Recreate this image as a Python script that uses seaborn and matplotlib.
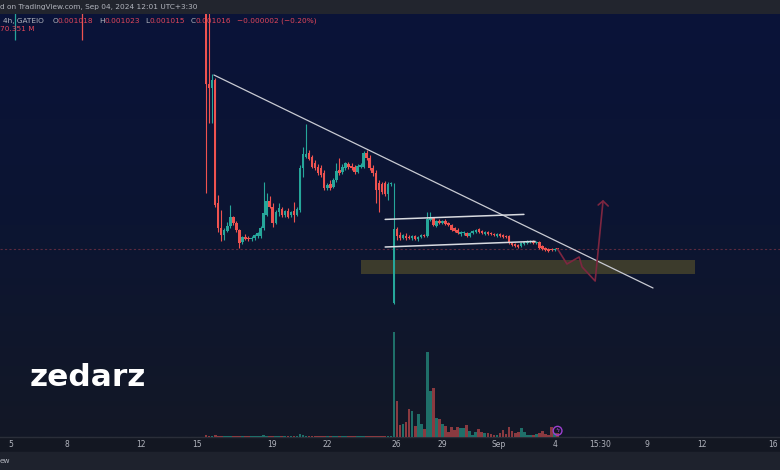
import numpy as np
import pandas as pd
import matplotlib
matplotlib.use("Agg")
import matplotlib.pyplot as plt
from matplotlib.colors import LinearSegmentedColormap
from matplotlib.patches import Rectangle
import seaborn as sns

# 4h candles, GATEIO. prices in millionths (1016 -> 0.001016), index 0 = first candle (Aug 15)
opens = [2331, 1841, 1821, 1861, 1246, 1121, 1086, 1106, 1131, 1176,
         1146, 1111, 1051, 1076, 1071, 1066, 1071, 1081, 1081, 1121,
         1186, 1256, 1226, 1146, 1201, 1216, 1186, 1206, 1186, 1206,
         1186, 1211, 1421, 1476, 1496, 1476, 1446, 1426, 1421, 1396,
         1321, 1341, 1326, 1361, 1411, 1401, 1421, 1441, 1431, 1426,
         1401, 1426, 1426, 1496, 1471, 1421, 1396, 1346, 1341, 1346,
         1291, 1341, 746, 1116, 1086, 1071, 1081, 1076, 1071, 1081,
         1066, 1076, 1086, 1081, 1161, 1171, 1131, 1156, 1146, 1156,
         1146, 1136, 1121, 1111, 1091, 1096, 1096, 1081, 1096, 1101,
         1116, 1106, 1091, 1101, 1096, 1091, 1081, 1091, 1086, 1081,
         1081, 1046, 1041, 1036, 1031, 1041, 1046, 1051, 1056, 1046,
         1051, 1031, 1021, 1016, 1016, 1011, 1018]
highs = [2381, 2196, 1891, 1871, 1286, 1211, 1121, 1151, 1236, 1181,
         1156, 1116, 1081, 1091, 1081, 1081, 1091, 1101, 1131, 1351,
         1296, 1281, 1246, 1211, 1246, 1226, 1211, 1221, 1206, 1251,
         1226, 1436, 1526, 1641, 1511, 1486, 1461, 1441, 1436, 1411,
         1346, 1361, 1371, 1446, 1471, 1441, 1451, 1451, 1446, 1436,
         1441, 1446, 1506, 1511, 1486, 1436, 1411, 1361, 1351, 1356,
         1351, 1351, 1346, 1126, 1101, 1091, 1096, 1086, 1086, 1086,
         1081, 1091, 1091, 1201, 1201, 1176, 1161, 1166, 1161, 1166,
         1151, 1141, 1126, 1121, 1106, 1106, 1101, 1101, 1111, 1116,
         1121, 1111, 1106, 1106, 1101, 1096, 1096, 1096, 1091, 1086,
         1086, 1051, 1046, 1041, 1051, 1056, 1061, 1061, 1061, 1056,
         1056, 1036, 1026, 1021, 1021, 1021, 1023]
lows = [1296, 1646, 1646, 1226, 1101, 1056, 1061, 1101, 1121, 1136,
        1101, 1021, 1041, 1061, 1056, 1056, 1061, 1071, 1071, 1111,
        1181, 1221, 1126, 1141, 1181, 1176, 1176, 1171, 1176, 1151,
        1181, 1201, 1376, 1471, 1461, 1421, 1411, 1386, 1376, 1311,
        1311, 1311, 1321, 1351, 1386, 1391, 1411, 1416, 1411, 1391,
        1396, 1421, 1421, 1461, 1411, 1381, 1246, 1201, 1291, 1281,
        1261, 1331, 741, 1061, 1061, 1066, 1061, 1066, 1061, 1061,
        1056, 1071, 1076, 1076, 1156, 1131, 1126, 1141, 1141, 1136,
        1131, 1106, 1101, 1091, 1081, 1086, 1076, 1076, 1091, 1096,
        1096, 1091, 1086, 1086, 1086, 1081, 1076, 1076, 1071, 1071,
        1041, 1031, 1026, 1021, 1026, 1036, 1041, 1046, 1041, 1041,
        1016, 1011, 1006, 1001, 1006, 1006, 1015]
closes = [1841, 1821, 1861, 1236, 1121, 1086, 1111, 1131, 1176, 1146,
          1111, 1046, 1076, 1066, 1066, 1071, 1086, 1096, 1121, 1196,
          1256, 1226, 1146, 1201, 1221, 1186, 1206, 1176, 1201, 1186,
          1216, 1421, 1491, 1491, 1466, 1426, 1421, 1396, 1386, 1321,
          1336, 1321, 1361, 1406, 1396, 1426, 1446, 1426, 1421, 1401,
          1431, 1436, 1496, 1471, 1421, 1396, 1311, 1311, 1301, 1291,
          1341, 1346, 1116, 1081, 1071, 1086, 1071, 1071, 1081, 1066,
          1076, 1086, 1081, 1166, 1171, 1136, 1156, 1146, 1156, 1141,
          1136, 1111, 1106, 1096, 1101, 1101, 1081, 1096, 1106, 1111,
          1101, 1096, 1101, 1091, 1091, 1086, 1091, 1081, 1076, 1076,
          1046, 1036, 1031, 1026, 1046, 1051, 1051, 1056, 1046, 1051,
          1021, 1016, 1011, 1006, 1011, 1018, 1016]
# volume, millions
volumes = [35, 26, 20, 35, 26, 20, 20, 20, 26, 20,
           20, 26, 20, 20, 20, 20, 20, 20, 20, 35,
           26, 20, 26, 20, 20, 20, 20, 20, 20, 20,
           20, 53, 35, 26, 20, 20, 20, 20, 20, 26,
           20, 20, 20, 26, 20, 20, 20, 20, 20, 20,
           20, 20, 26, 20, 20, 20, 26, 26, 20, 20,
           20, 20, 1838, 630, 210, 228, 263, 490, 455, 193,
           403, 228, 140, 1488, 805, 858, 333, 315, 228, 193,
           88, 175, 123, 175, 158, 158, 210, 105, 35, 88,
           140, 88, 70, 70, 53, 35, 35, 70, 123, 53,
           175, 105, 70, 88, 158, 88, 35, 35, 35, 53,
           70, 105, 53, 35, 175, 70, 70.351]

# two older wicks poking in at the top left
early_idx = [-63, -41]
early_low = [2061, 2061]
early_up = [True, False]

tick_pos = [-64.4, -45.9, -21.5, -3.0, 21.8, 39.9, 62.7, 77.9, 96.4, 115.2, 130.0, 145.5, 163.7, 187.2]
tick_labels = ["5", "8", "12", "15", "19", "22", "26", "29", "Sep", "4", "15:30", "9", "12", "16"]

# drawings (candle index, price)
trend_x, trend_y = [2.6, 147.5], [1886, 821]
chan_hi_x, chan_hi_y = [59.1, 104.9], [1164, 1189]
chan_lo_x, chan_lo_y = [59.1, 108.6], [1026, 1054]
zone_x, zone_y = [51.2, 161.4], [891, 961]
path_x = [116, 119.1, 123.1, 124.1, 128.4, 131.0]
path_y = [1016, 941, 976, 926, 856, 1256]
head_x, head_y = [129.4, 131.0, 132.7], [1236, 1256, 1231]

UP, DN = "#26a69a", "#ef5350"
VUP, VDN = "#1f6f69", "#8a3a40"

sns.set_theme(style="dark", rc={"axes.facecolor": "#131722", "figure.facecolor": "#131722"})
plt.rcParams['font.family'] = ['DejaVu Sans']

fig = plt.figure(figsize=(7.8, 4.7), dpi=100)
ax = fig.add_axes([0, 33 / 470, 1, 423 / 470])

bg = LinearSegmentedColormap.from_list("bg", ["#0a1339", "#0c1532", "#131826"])
ax.imshow(np.linspace(0, 1, 256).reshape(-1, 1), cmap=bg, aspect="auto",
          extent=[0, 1, 0, 1], transform=ax.transAxes, zorder=0)

o, h, l, c = map(np.array, (opens, highs, lows, closes))
x = np.arange(len(o))
up = c >= o
col = np.where(up, UP, DN)

ax.axhline(c[-1], ls=(0, (2, 2)), color="#5a2a3f", lw=0.8, zorder=1)
ax.fill_between(zone_x, zone_y[0], zone_y[1], color="#3c3b2c", lw=0, zorder=1)

ax.vlines(x, l, h, colors=col, lw=0.8, zorder=3)
ax.bar(x, np.maximum(np.abs(c - o), 5), bottom=np.minimum(o, c), width=0.82,
       color=col, lw=0, zorder=4)
ax.vlines(early_idx, early_low, 3000, colors=[UP if u else DN for u in early_up], lw=0.9, zorder=3)

ax.plot(trend_x, trend_y, color="#c9cbd3", lw=0.9, zorder=5)
ax.plot(chan_hi_x, chan_hi_y, color="#d8dae0", lw=1.1, zorder=5)
ax.plot(chan_lo_x, chan_lo_y, color="#d8dae0", lw=1.1, zorder=5)
ax.plot(path_x, path_y, color="#7d2640", lw=1.2, zorder=5)
ax.plot(head_x, head_y, color="#7d2640", lw=1.2, zorder=5)

axv = ax.twinx()
vol_df = pd.DataFrame({"idx": x, "vol": volumes, "dir": np.where(up, "up", "down")})
sns.barplot(data=vol_df, x="idx", y="vol", hue="dir", palette={"up": VUP, "down": VDN},
            native_scale=True, dodge=False, width=0.9, errorbar=None, legend=False,
            saturation=1, linewidth=0, ax=axv)
axv.set_ylim(0, 7402)
axv.set_axis_off()

ax.set_xlim(-68.0, 189.4)
ax.set_ylim(76, 2191)
for s in ax.spines.values():
    s.set_visible(False)
ax.spines["bottom"].set_visible(True)
ax.spines["bottom"].set_color("#2a2e39")
ax.spines["bottom"].set_linewidth(1)
ax.set_yticks([])
ax.set_xticks(tick_pos, tick_labels)
ax.tick_params(axis="x", length=0, pad=2.5, labelsize=5.5, labelcolor="#b2b5be")
ax.set_xlabel("")
ax.set_ylabel("")

axv.annotate("ϟ", xy=(x[-1], 0), xycoords=("data", "axes fraction"), xytext=(0, 4.5),
             textcoords="offset points", ha="center", va="center", fontsize=4.5, color="#b04ce0",
             bbox=dict(boxstyle="circle,pad=0.3", fc="none", ec="#9c3fd0", lw=1), annotation_clip=False)

# header bars
fig.add_artist(Rectangle((0, 1 - 13 / 470), 1, 13 / 470, transform=fig.transFigure, color="#22252e", zorder=0))
fig.add_artist(Rectangle((0, 0), 1, 18 / 470, transform=fig.transFigure, color="#1e222d", zorder=0))
fig.text(0, 1 - 7 / 470, "d on TradingView.com, Sep 04, 2024 12:01 UTC+3:30", va="center",
         fontsize=5.3, color="#b2b5be")
fig.text(0, 1 - 461 / 470, "ew", va="center", fontsize=5.3, color="#b2b5be")

# legend: OHLC of the last candle
GREY, RED = "#b2b5be", "#e0465a"
chg = c[-1] - c[-2]
pieces = [("4h, GATEIO", GREY, 0),
          ("O", GREY, 6), (f"{o[-1] / 1e6:.6f}", RED, 0),
          ("H", GREY, 4), (f"{h[-1] / 1e6:.6f}", RED, 0),
          ("L", GREY, 4), (f"{l[-1] / 1e6:.6f}", RED, 0),
          ("C", GREY, 4), (f"{c[-1] / 1e6:.6f}", RED, 0),
          (f"{chg / 1e6:+.6f} ({chg / c[-2] * 100:+.2f}%)".replace("-", "−"), RED, 4)]
prev = fig.text(3 / 780, 1 - 21 / 470, pieces[0][0], va="center", fontsize=5.3, color=pieces[0][1])
for txt, colr, gap in pieces[1:]:
    prev = ax.annotate(txt, xy=(1, 0.5), xycoords=prev, xytext=(gap, 0),
                       textcoords="offset points", va="center", ha="left",
                       fontsize=5.3, color=colr, annotation_clip=False)
fig.text(0, 1 - 29 / 470, f"{volumes[-1]:.3f} M", va="center", fontsize=5.3, color=RED)

fig.text(30 / 780, 1 - 386 / 470, "zedarz", fontsize=22.5, weight="bold", color="white", va="baseline")

fig.savefig("out.png", dpi=100, facecolor=fig.get_facecolor())
